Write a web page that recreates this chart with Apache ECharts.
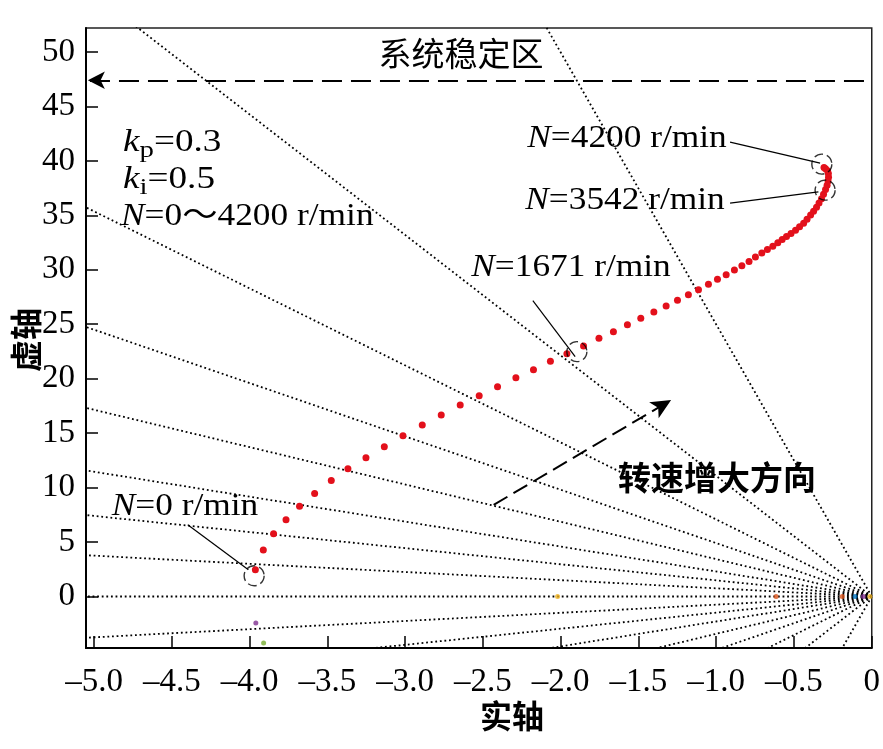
<!DOCTYPE html>
<html><head><meta charset="utf-8">
<script src="https://cdn.jsdelivr.net/npm/echarts@6/dist/echarts.min.js"></script>
<style>html,body{margin:0;padding:0;background:#fff}#c{width:883px;height:749px}</style>
</head><body><div id="c"></div>
<script>
// ---- data ----
const realPart = [-3.963,-3.912,-3.846,-3.766,-3.679,-3.582,-3.475,-3.368,-3.252,-3.134,-3.014,-2.890,-2.768,-2.646,-2.524,-2.406,-2.288,-2.175,-2.066,-1.960,-1.853,-1.754,-1.661,-1.571,-1.485,-1.401,-1.322,-1.249,-1.179,-1.114,-1.050,-0.992,-0.936,-0.883,-0.835,-0.789,-0.748,-0.707,-0.671,-0.636,-0.604,-0.576,-0.548,-0.519,-0.490,-0.464,-0.438,-0.416,-0.393,-0.374,-0.355,-0.339,-0.323,-0.310,-0.297,-0.287,-0.281,-0.278,-0.279,-0.284,-0.297,-0.307];
const imagPart = [2.45,4.26,5.75,7.04,8.29,9.45,10.64,11.72,12.75,13.76,14.77,15.75,16.67,17.58,18.44,19.27,20.09,20.83,21.60,22.29,23.00,23.71,24.31,24.95,25.54,26.12,26.67,27.19,27.71,28.17,28.66,29.12,29.54,29.97,30.37,30.77,31.17,31.53,31.87,32.17,32.48,32.77,33.05,33.34,33.64,33.96,34.28,34.65,35.02,35.38,35.75,36.12,36.53,36.94,37.36,37.77,38.14,38.50,38.83,39.10,39.28,39.38];
const polesOrange = [[-0.615, 0], [-0.19, 0]];
const polesYellow = [[-2.02, 0], [-0.012, 0]];
const polesBlue = [[-0.107, 0]];
const polesPurple = [[-3.96, -2.44], [-0.054, 0]];
const polesGreen = [[-3.91, -4.28]];
const zetaValues = [1, 0.8, 0.56, 0.4, 0.28, 0.2, 0.14, 0.09, 0.04];
const xTicks = [-5, -4.5, -4, -3.5, -3, -2.5, -2, -1.5, -1, -0.5, 0];
const yTicks = [0, 5, 10, 15, 20, 25, 30, 35, 40, 45, 50];
const markedReal = [-3.971, -1.896, -0.300, -0.321];
const markedImag = [1.90, 22.48, 37.31, 39.70];
const leaderFrom = [[-4.398, 6.58], [-2.179, 27.16], [-0.911, 36.12], [-0.911, 41.72]];
const leaderTo = [[-4.008, 2.45], [-1.907, 22.02], [-0.343, 37.16], [-0.332, 39.79]];
const stableArrow = [[-0.05, 47.4], [-5.04, 47.4]];
const speedArrow = [[-2.431, 8.41], [-1.29, 18.04]];

// ---- chart ----
const SERIF = "'Liberation Serif','Times New Roman','Noto Sans CJK SC',serif";
const CJK = "'Noto Sans CJK SC',sans-serif";
const chart = echarts.init(document.getElementById('c'), null, {renderer: 'canvas'});

const series = [];
zetaValues.forEach(z => {
  const slope = Math.sqrt(1 - z * z) / z;
  [1, -1].forEach(sg => {
    if (z === 1 && sg === -1) return;
    series.push({
      type: 'line', data: [[0, 0], [-6, sg * 6 * slope]], symbol: 'none', clip: true,
      lineStyle: {color: '#000', width: 1.8, type: [1.8, 2.8], cap: 'butt'}, silent: true, z: 1
    });
  });
});
leaderFrom.forEach((p, i) => {
  series.push({type: 'line', data: [p, leaderTo[i]], symbol: 'none', lineStyle: {color: '#000', width: 1.2}, silent: true, z: 3});
});
series.push({
  type: 'line', data: [], silent: true,
  markLine: {
    silent: true, symbol: ['none', 'arrow'], label: {show: false}, animation: false,
    data: [[{coord: stableArrow[0], symbolSize: 0}, {coord: stableArrow[1], symbolSize: [13, 17]}]],
    lineStyle: {color: '#000', width: 2, type: [20, 9]}
  }
});
series.push({
  type: 'line', data: [], silent: true,
  markLine: {
    silent: true, symbol: ['none', 'arrow'], label: {show: false}, animation: false,
    data: [[{coord: speedArrow[0], symbolSize: 0}, {coord: speedArrow[1], symbolSize: [14, 20]}]],
    lineStyle: {color: '#000', width: 2, type: [16, 7]}
  }
});
series.push({
  type: 'scatter', data: realPart.map((x, i) => [x, imagPart[i]]), symbolSize: 7,
  itemStyle: {color: '#e3101b', opacity: 1}, z: 4, silent: true
});
const poleSets = [[polesYellow, '#EDB120'], [polesOrange, '#D95319'], [polesBlue, '#0072BD'], [polesPurple, '#7E2F8E'], [polesGreen, '#77AC30']];
poleSets.forEach(([d, c]) => series.push({type: 'scatter', data: d, symbolSize: 5, itemStyle: {color: c}, z: 4, silent: true}));
series.push({
  type: 'scatter', data: markedReal.map((x, i) => [x, markedImag[i]]), symbol: 'circle', symbolSize: 20,
  itemStyle: {color: 'rgba(0,0,0,0)', borderColor: '#000', borderWidth: 1.4, borderType: [9, 4]}, z: 5, silent: true
});

function txt(text, x, y, align, size, extra, sx) {
  return {
    type: 'text', x: x, y: y, z: 100, scaleX: sx || 1,
    style: Object.assign({text: text, align: align, verticalAlign: 'middle', fill: '#000',
      fontFamily: SERIF, fontSize: size}, extra || {})
  };
}
const nRich = (size) => ({
  i: {fontFamily: SERIF, fontStyle: 'italic', fontSize: size, fill: '#000'},
  t: {fontFamily: SERIF, fontSize: size, fill: '#000'}
});
const kRich = {
  i: {fontFamily: SERIF, fontStyle: 'italic', fontSize: 31, fill: '#000', lineHeight: 40},
  s: {fontFamily: SERIF, fontSize: 24, fill: '#000', verticalAlign: 'bottom', lineHeight: 26},
  t: {fontFamily: SERIF, fontSize: 31, fill: '#000', lineHeight: 40}
};
const SX = 1.14;
const graphic = [
  txt('系统稳定区', 461, 53, 'center', 33, {fontFamily: CJK}),
  txt('{i|k}{s|p}{t|=0.3}', 123, 143, 'left', 31, {rich: kRich}, 1.2),
  txt('{i|k}{s|i}{t|=0.5}', 123, 180, 'left', 31, {rich: kRich}, 1.2),
  txt('{i|N}{t|=0～4200 r/min}', 121, 217, 'left', 31, {rich: nRich(31)}, SX),
  txt('{i|N}{t|=4200 r/min}', 627, 139, 'center', 31, {rich: nRich(31)}, SX),
  txt('{i|N}{t|=3542 r/min}', 625, 201, 'center', 31, {rich: nRich(31)}, SX),
  txt('{i|N}{t|=1671 r/min}', 571, 268, 'center', 31, {rich: nRich(31)}, SX),
  txt('{i|N}{t|=0 r/min}', 185, 507, 'center', 31, {rich: nRich(31)}, SX),
  txt('转速增大方向', 717, 477, 'center', 33, {fontFamily: CJK, fontWeight: 'bold'}),
  txt('实轴', 512, 716, 'center', 32, {fontFamily: CJK, fontWeight: 'bold'}),
  Object.assign(txt('虚轴', 0, 0, 'center', 32, {fontFamily: CJK, fontWeight: 'bold'}), {x: 26, y: 340, rotation: Math.PI / 2})
];

chart.setOption({
  animation: false,
  backgroundColor: '#fff',
  grid: {left: 86, right: 11, top: 28, bottom: 101, show: true, borderColor: '#222', borderWidth: 1.5, backgroundColor: 'transparent', containLabel: false},
  xAxis: {
    type: 'value', min: -5.052, max: 0, splitLine: {show: false},
    axisLine: {show: true, onZero: false, lineStyle: {color: '#000', width: 2}},
    axisTick: {show: true, inside: true, length: 12, customValues: xTicks, lineStyle: {color: '#000', width: 1.5}},
    axisLabel: {customValues: xTicks, margin: 18, color: '#000', fontFamily: SERIF, fontSize: 33,
      formatter: v => (Math.abs(v) < 1e-9 ? '0' : '\u2013' + Math.abs(v).toFixed(1))}
  },
  yAxis: {
    type: 'value', min: -4.73, max: 52.2, splitLine: {show: false},
    axisLine: {show: true, onZero: false, lineStyle: {color: '#000', width: 2}},
    axisTick: {show: true, inside: true, length: 12, customValues: yTicks, lineStyle: {color: '#000', width: 1.5}},
    axisLabel: {customValues: yTicks, margin: 11, color: '#000', fontFamily: SERIF, fontSize: 33,
      formatter: v => String(v)}
  },
  series: series,
  graphic: graphic
});
</script></body></html>
